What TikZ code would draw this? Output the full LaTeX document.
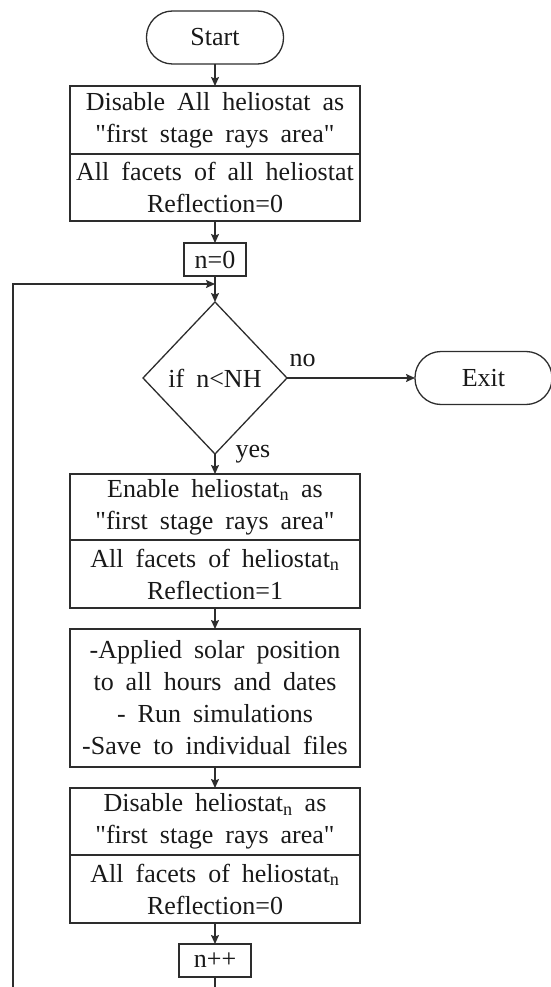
\documentclass[tikz,border=0pt]{standalone}
\usepackage{fontspec}
\setmainfont{Liberation Serif}
\usetikzlibrary{positioning,arrows.meta,shapes.geometric}
\definecolor{lineink}{RGB}{45,45,45}
\newcommand{\flowfont}{\fontsize{26}{32}\selectfont\spaceskip 12pt\relax}
\newcommand{\dq}{\textquotedbl}

\begin{document}
\begin{tikzpicture}[
    x=1pt, y=-1pt,
    base/.style={draw=lineink, line width=1.3pt, outer sep=0pt, inner sep=2pt, align=center, text=black!90, font=\flowfont},
    term/.style={base, rectangle, rounded corners=26pt, minimum width=137pt, minimum height=53pt},
    proc/.style={base, rectangle, minimum width=290pt},
    cnt/.style={base, rectangle, minimum height=33pt},
    dec/.style={base, diamond, minimum width=144pt, minimum height=152pt, inner sep=0pt},
    arr/.style={-{Stealth[length=9pt, width=8pt, inset=1.5pt]}, line width=1.3pt, draw=lineink},
    lbl/.style={inner sep=2pt, text=black!90, font=\flowfont}
]
    \useasboundingbox (0,0) rectangle (550,987);

    \node[term] (start) at (215,37.5) {Start};
    \node[proc, minimum height=68pt, below=22pt of start] (disall) {Disable All heliostat as\\\dq first stage rays area\dq};
    \node[proc, minimum height=67pt, below=0pt of disall] (refall) {All facets of all heliostat\\Reflection=0};
    \node[cnt, minimum width=62pt, below=22pt of refall] (nzero) {n=0};
    \coordinate[below=8pt of nzero] (join);
    \node[dec, below=26pt of nzero] (cond) {if n<NH};
    \node[term, right=128pt of cond] (exit) {Exit};
    \node[proc, minimum height=66pt, below=20pt of cond] (enable) {Enable heliostat\textsubscript{n} as\\\dq first stage rays area\dq};
    \node[proc, minimum height=68pt, below=0pt of enable] (refon) {All facets of heliostat\textsubscript{n}\\Reflection=1};
    \node[proc, minimum height=138pt, below=21pt of refon] (sim) {-Applied solar position\\to all hours and dates\\- Run simulations\\-Save to individual files};
    \node[proc, minimum height=67pt, below=21pt of sim] (disable) {Disable heliostat\textsubscript{n} as\\\dq first stage rays area\dq};
    \node[proc, minimum height=68pt, below=0pt of disable] (refoff) {All facets of heliostat\textsubscript{n}\\Reflection=0};
    \node[cnt, minimum width=72pt, below=21pt of refoff] (ninc) {n++};
    \coordinate[below=30pt of ninc] (loopdn);
    \coordinate (loopup) at (13,284);

    \draw[arr] (start) -- (disall);
    \draw[arr] (refall) -- (nzero);
    \draw[lineink, line width=1.3pt] (nzero) -- (join);
    \draw[arr] (join) -- (cond);
    \draw[arr] (cond) -- (exit) node[lbl, above right, pos=0, yshift=9pt] {no};
    \draw[arr] (cond) -- (enable) node[lbl, right=18pt, pos=0] {yes};
    \draw[arr] (refon) -- (sim);
    \draw[arr] (sim) -- (disable);
    \draw[arr] (refoff) -- (ninc);
    \draw[arr] (ninc) -- (loopdn) -| (loopup) -- (join);
\end{tikzpicture}
\end{document}
